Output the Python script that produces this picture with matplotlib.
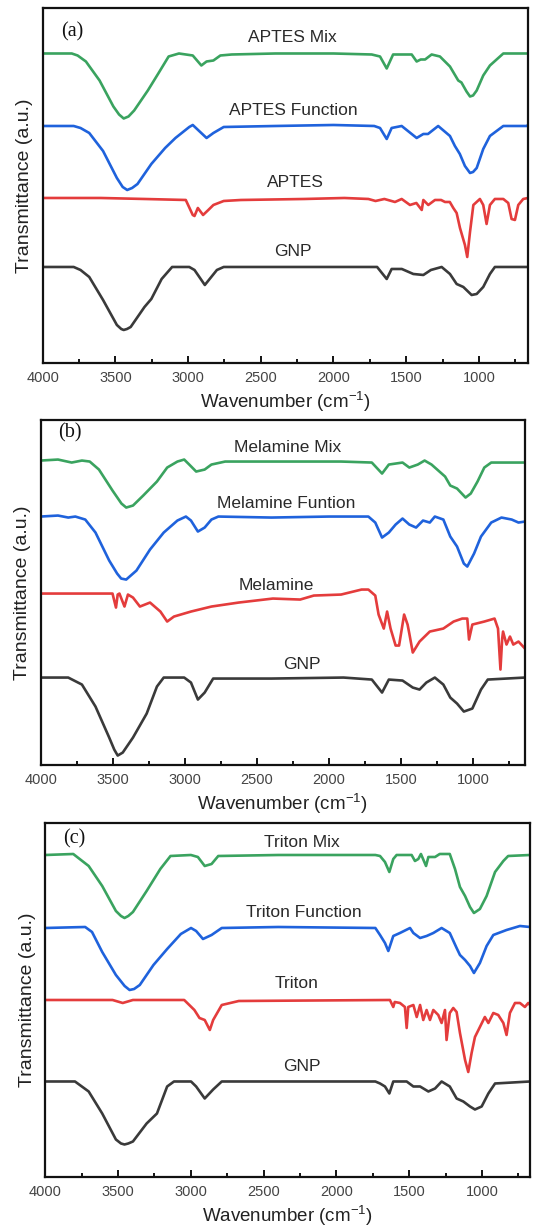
import matplotlib
matplotlib.use('Agg')
import matplotlib.pyplot as plt
from matplotlib.ticker import MultipleLocator

# ---------------- data: wavenumber (cm-1) and relative transmittance (a.u., 0 = baseline) ----------------
# panel (a)
aptes_mix_wn = [4000, 3800, 3760, 3703, 3609, 3514, 3475, 3443, 3410, 3371, 3277, 3205, 3134, 3063, 2968, 2909,
                2873, 2826, 2778, 2700, 2400, 2000, 1737, 1680, 1634, 1590, 1462, 1428, 1400, 1370, 1325, 1268,
                1199, 1142, 1120, 1085, 1061, 1040, 1015, 970, 924, 832, 662]
aptes_mix_t = [0, 0, -2, -8, -27, -53, -61, -65, -63, -57, -37, -20, -3, 0, -2, -12,
               -8, -7, -2, -1, 0, 0, -1, -3, -15, -1, -1, -8, -6, -6, -1, -3,
               -13, -27, -29, -38, -43, -42, -37, -22, -12, 0, 0]

aptes_fun_wn = [4000, 3787, 3740, 3680, 3585, 3490, 3450, 3419, 3385, 3348, 3253, 3158, 3087, 2992, 2968, 2873,
                2826, 2755, 2400, 2000, 1720, 1680, 1634, 1600, 1531, 1428, 1382, 1350, 1280, 1199, 1165, 1131,
                1096, 1061, 1040, 1015, 970, 924, 832, 672, 662]
aptes_fun_t = [0, 0, -2, -7, -25, -52, -61, -64, -62, -58, -38, -22, -12, -1, 1, -12,
               -7, -1, 0, 1, 0, -2, -13, -2, 0, -12, -8, -8, 0, -10, -20, -28,
               -40, -47, -46, -42, -23, -10, 0, 0, 1]

aptes_wn = [4000, 3600, 3300, 3016, 2968, 2956, 2933, 2897, 2861, 2826, 2755, 2636, 2200, 1925, 1760, 1711,
            1650, 1577, 1531, 1474, 1430, 1393, 1382, 1348, 1302, 1260, 1233, 1200, 1176, 1153, 1130, 1096,
            1080, 1061, 1038, 993, 970, 947, 924, 890, 832, 798, 775, 752, 729, 695, 662]
aptes_t = [0, 0, -1, -2, -17, -18, -10, -17, -12, -7, -3, -2, -1, 0, -1, -3,
           -1, -4, -1, -7, -5, -12, -2, -7, -2, -2, -4, -4, -10, -15, -30, -47,
           -59, -34, -7, -1, -7, -26, -7, -1, -1, -5, -21, -22, -7, -1, 0]

gnp_a_wn = [4000, 3787, 3740, 3680, 3585, 3490, 3460, 3443, 3420, 3395, 3300, 3253, 3182, 3110, 2992, 2956,
            2885, 2802, 2755, 2000, 1700, 1634, 1600, 1530, 1451, 1382, 1330, 1256, 1199, 1153, 1107, 1050,
            1015, 970, 924, 890, 662]
gnp_a_t = [0, 0, -3, -10, -33, -58, -62, -63, -62, -60, -40, -32, -12, 0, 0, -3,
           -18, -3, 0, 0, 0, -12, -2, -2, -7, -8, -3, 0, -7, -17, -20, -28,
           -27, -20, -7, 0, 0]

# panel (b)
mel_mix_wn = [4000, 3880, 3785, 3714, 3660, 3596, 3502, 3440, 3407, 3360, 3289, 3194, 3123, 3052, 3005, 2970,
              2922, 2863, 2816, 2721, 2400, 1917, 1704, 1633, 1586, 1491, 1444, 1385, 1338, 1290, 1243, 1196,
              1160, 1113, 1054, 1018, 971, 924, 876, 642]
mel_mix_t = [0, 1, -2, 0, -1, -9, -30, -43, -47, -45, -35, -21, -7, -1, 1, -4,
             -11, -9, -4, -1, -1, -1, -2, -13, -4, -2, -7, -4, 0, -4, -10, -16,
             -25, -28, -37, -33, -21, -7, -2, -2]

mel_fun_wn = [4000, 3880, 3809, 3760, 3691, 3620, 3525, 3470, 3442, 3407, 3336, 3242, 3147, 3052, 2993, 2958,
              2910, 2863, 2816, 2768, 2400, 2000, 1728, 1680, 1633, 1586, 1539, 1491, 1444, 1397, 1349, 1302,
              1267, 1208, 1160, 1113, 1066, 1042, 995, 947, 876, 805, 734, 687, 642]
mel_fun_t = [0, 1, -1, 0, -3, -16, -44, -57, -62, -63, -54, -33, -16, -4, 0, -4,
             -15, -11, -3, 0, -1, 0, 0, -6, -21, -16, -8, -2, -8, -11, -4, -6,
             0, -3, -20, -30, -47, -50, -37, -20, -6, -1, -3, -6, -5]

mel_wn = [4000, 3502, 3478, 3466, 3454, 3419, 3395, 3360, 3312, 3242, 3170, 3123, 3076, 2958, 2816, 2627,
          2390, 2201, 2106, 1917, 1775, 1728, 1680, 1657, 1621, 1598, 1574, 1539, 1515, 1480, 1456, 1444,
          1420, 1373, 1302, 1208, 1137, 1077, 1042, 1030, 1007, 924, 853, 829, 812, 800, 794, 770,
          746, 723, 687, 642]
mel_t = [0, 0, -14, -1, 0, -13, -1, -4, -13, -9, -18, -28, -23, -18, -13, -9,
         -5, -6, -2, -1, 4, 4, -2, -21, -35, -18, -35, -52, -52, -21, -31, -40,
         -59, -48, -38, -35, -28, -25, -25, -46, -31, -28, -25, -35, -76, -45, -38, -51,
         -43, -51, -48, -55]

gnp_b_wn = [4000, 3809, 3714, 3620, 3525, 3490, 3466, 3431, 3360, 3265, 3194, 3147, 3005, 2958, 2910, 2863,
            2804, 2400, 1900, 1704, 1633, 1586, 1491, 1420, 1373, 1326, 1267, 1208, 1160, 1113, 1066, 1007,
            947, 900, 642]
gnp_b_t = [0, 0, -7, -29, -60, -72, -78, -75, -60, -36, -9, 0, 0, -5, -22, -15,
           -1, -1, 0, -2, -15, -2, -3, -10, -12, -5, 0, -7, -20, -26, -34, -31,
           -12, -2, 0]

# panel (c)
tri_mix_wn = [4000, 3808, 3702, 3609, 3515, 3480, 3456, 3430, 3398, 3304, 3210, 3140, 3000, 2952, 2905, 2858,
              2812, 2400, 1733, 1701, 1667, 1637, 1610, 1587, 1484, 1461, 1438, 1420, 1385, 1369, 1323, 1291,
              1222, 1186, 1152, 1117, 1083, 1056, 1015, 969, 911, 854, 821, 671]
tri_mix_t = [0, 1, -11, -31, -56, -61, -63, -61, -57, -36, -14, -1, 0, -2, -11, -9,
             -1, 0, 0, -1, -7, -17, -4, 0, 0, -6, -4, 1, -11, -2, -2, 1,
             1, -14, -32, -41, -52, -58, -54, -41, -17, -6, -1, 0]

tri_fun_wn = [4000, 3726, 3679, 3609, 3515, 3455, 3421, 3390, 3351, 3257, 3163, 3069, 2999, 2964, 2917, 2858,
              2788, 2400, 1733, 1701, 1667, 1644, 1610, 1564, 1495, 1472, 1426, 1381, 1335, 1278, 1222, 1175,
              1152, 1117, 1083, 1056, 1015, 969, 923, 832, 740, 671]
tri_fun_t = [0, 1, -4, -24, -47, -58, -62, -61, -57, -37, -21, -6, 0, -3, -11, -7,
             0, 1, 0, -7, -15, -23, -8, -5, 0, -5, -10, -8, -5, 0, -5, -20,
             -27, -32, -38, -45, -35, -18, -7, -2, 2, 1]

tri_wn = [4000, 3538, 3468, 3398, 3046, 2976, 2941, 2905, 2870, 2847, 2788, 2671, 1633, 1610, 1600, 1564,
          1530, 1518, 1507, 1472, 1449, 1426, 1404, 1381, 1358, 1335, 1301, 1278, 1255, 1244, 1222, 1198,
          1175, 1152, 1117, 1095, 1072, 1049, 1015, 981, 957, 923, 889, 854, 832, 809,
          774, 740, 706, 683, 671]
tri_t = [0, 0, -3, 0, 0, -10, -18, -20, -30, -20, -5, -1, 0, -7, -2, -3,
         -7, -28, -7, -5, -17, -5, -20, -10, -20, -10, -15, -23, -10, -40, -13, -8,
         -12, -33, -60, -72, -53, -37, -27, -17, -23, -13, -15, -23, -35, -13,
         -3, -3, -7, -3, -5]

gnp_c_wn = [4000, 3796, 3702, 3609, 3515, 3480, 3456, 3430, 3398, 3304, 3233, 3163, 3116, 2999, 2964, 2905,
            2847, 2788, 1733, 1701, 1667, 1637, 1610, 1518, 1472, 1426, 1369, 1323, 1278, 1222, 1175, 1129,
            1083, 1049, 1003, 957, 911, 671]
gnp_c_t = [0, 0, -10, -32, -58, -62, -63, -62, -60, -42, -32, -5, 0, 0, -5, -17,
           -8, 0, 0, -2, -5, -12, 0, 0, -5, -5, -10, -7, 0, -5, -17, -20,
           -25, -28, -25, -12, -2, 0]

labels_a = ['APTES Mix', 'APTES Function', 'APTES', 'GNP']
labels_b = ['Melamine Mix', 'Melamine Funtion', 'Melamine', 'GNP']
labels_c = ['Triton Mix', 'Triton Function', 'Triton', 'GNP']

colors = ['#3aa35f', '#1f62dc', '#e43c3c', '#3a3a3a']

panels = [
    dict(tag='(a)', labels=labels_a,
         spectra=[(aptes_mix_wn, aptes_mix_t), (aptes_fun_wn, aptes_fun_t), (aptes_wn, aptes_t), (gnp_a_wn, gnp_a_t)],
         rect=[0.080, 0.7049, 0.9088, 0.2886], xmin=662, height=355,
         offsets=[-45.5, -118, -190, -259], label_y=[-30, -103, -175, -244],
         label_x=[2280, 2275, 2265, 2280], tag_y=-24),
    dict(tag='(b)', labels=labels_b,
         spectra=[(mel_mix_wn, mel_mix_t), (mel_fun_wn, mel_fun_t), (mel_wn, mel_t), (gnp_b_wn, gnp_b_t)],
         rect=[0.0762, 0.378, 0.9069, 0.2805], xmin=642, height=345,
         offsets=[-40.5, -96.5, -173.5, -257.5], label_y=[-27, -83, -165, -244],
         label_x=[2285, 2300, 2368, 2190], tag_y=-13),
    dict(tag='(c)', labels=labels_c,
         spectra=[(tri_mix_wn, tri_mix_t), (tri_fun_wn, tri_fun_t), (tri_wn, tri_t), (gnp_c_wn, gnp_c_t)],
         rect=[0.0848, 0.0431, 0.9077, 0.2878], xmin=671, height=354,
         offsets=[-32, -105, -177, -258.5], label_y=[-20, -90, -161, -244],
         label_x=[2237, 2221, 2272, 2237], tag_y=-16),
]

sans = ['Liberation Sans', 'DejaVu Sans']
serif = ['Liberation Serif', 'DejaVu Serif']

fig = plt.figure(figsize=(5.34, 12.30), dpi=100)

for p in panels:
    ax = fig.add_axes(p['rect'])
    for (wn, t), off, c in zip(p['spectra'], p['offsets'], colors):
        ax.plot(wn, [v + off for v in t], color=c, linewidth=1.9, solid_joinstyle='round')
    for txt, lx, ly in zip(p['labels'], p['label_x'], p['label_y']):
        ax.text(lx, ly, txt, ha='center', va='center', fontsize=12.5, color='#2a2a2a', family=sans)
    ax.text(0.06, 1 + p['tag_y'] / p['height'], p['tag'], transform=ax.transAxes,
            ha='center', va='center', fontsize=14.5, family=serif, color='#111111')

    ax.set_xlim(4000, p['xmin'])
    ax.set_ylim(-p['height'], 0)
    ax.set_yticks([])
    ax.xaxis.set_major_locator(MultipleLocator(500))
    ax.xaxis.set_minor_locator(MultipleLocator(250))
    ax.tick_params(axis='x', which='both', direction='in', top=False, width=1.3,
                   labelsize=10.5, labelcolor='#444444', pad=6)
    ax.tick_params(axis='x', which='major', length=5)
    ax.tick_params(axis='x', which='minor', length=3)
    for lbl in ax.get_xticklabels():
        lbl.set_family(sans)
    for s in ax.spines.values():
        s.set_linewidth(1.6)
        s.set_color('#111111')
    ax.set_xlabel(r'Wavenumber (cm$\mathregular{^{-1}}$)', fontsize=13.5, family=sans,
                  color='#222222', labelpad=3)
    ax.set_ylabel('Transmittance (a.u.)', fontsize=14, family=sans, color='#222222', labelpad=7)

fig.savefig('out.png', dpi=100)
